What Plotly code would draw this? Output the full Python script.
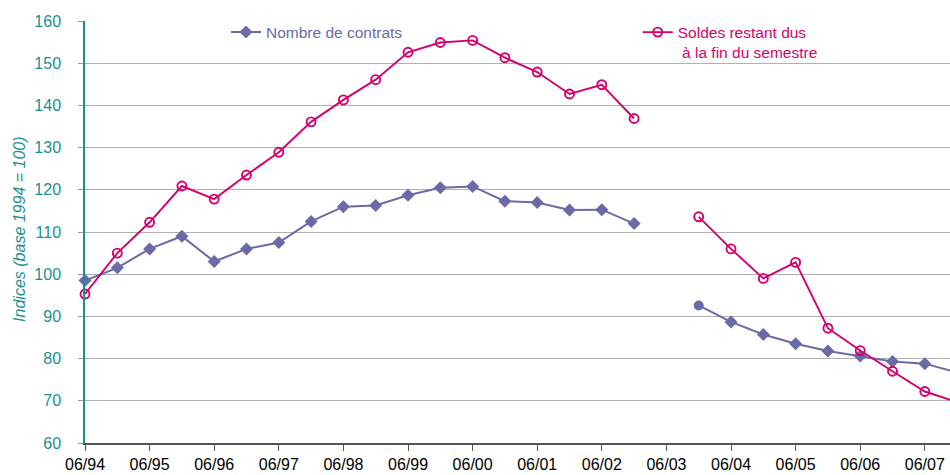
import plotly.graph_objects as go

# Half-yearly periods (06/94 ... 12/07)
periods = ["06/94", "12/94", "06/95", "12/95", "06/96", "12/96", "06/97", "12/97",
           "06/98", "12/98", "06/99", "12/99", "06/00", "12/00", "06/01", "12/01",
           "06/02", "12/02", "06/03", "12/03", "06/04", "12/04", "06/05", "12/05",
           "06/06", "12/06", "06/07", "12/07"]

nombre_contrats = [98.5, 101.5, 106.0, 109.0, 103.0, 106.0, 107.5, 112.5,
                   116.0, 116.3, 118.7, 120.5, 120.8, 117.3, 117.0, 115.2,
                   115.3, 112.0, None, 92.6, 88.7, 85.7, 83.5, 81.8,
                   80.6, 79.3, 78.8, 76.7]

soldes_restant = [95.3, 105.0, 112.3, 120.9, 117.8, 123.5, 128.9, 136.1,
                  141.3, 146.1, 152.6, 154.9, 155.4, 151.3, 147.9, 142.7,
                  144.9, 136.9, None, 113.6, 106.0, 99.0, 102.8, 87.2,
                  81.9, 77.0, 72.2, 69.7]

tick_labels = ["06/94", "06/95", "06/96", "06/97", "06/98", "06/99", "06/00",
               "06/01", "06/02", "06/03", "06/04", "06/05", "06/06", "06/07"]

# numeric position in years from 06/94
x = [i * 0.5 for i in range(len(periods))]
tick_vals = [x[periods.index(t)] for t in tick_labels]

PURPLE = "#6a6aa6"
RED = "#d4006c"
TEAL = "#1b9090"
FONT = "Liberation Sans, Arial, sans-serif"

symbols_nombre = ["diamond"] * len(periods)
symbols_nombre[periods.index("12/03")] = "circle"

fig = go.Figure()
fig.add_trace(go.Scatter(
    x=x, y=nombre_contrats, name="Nombre de contrats",
    mode="lines+markers", connectgaps=False, cliponaxis=False,
    line=dict(color=PURPLE, width=2),
    marker=dict(symbol=symbols_nombre, size=10, color=PURPLE),
    legend="legend", showlegend=True,
))
fig.add_trace(go.Scatter(
    x=x, y=soldes_restant, name="Soldes restant dus<br>\u00a0à la fin du semestre",
    mode="lines+markers", connectgaps=False, cliponaxis=False,
    line=dict(color=RED, width=1.9),
    marker=dict(symbol="circle-open", size=9, color=RED, line=dict(width=1.9, color=RED)),
    legend="legend2", showlegend=True,
))

fig.update_layout(
    width=950, height=475,
    margin=dict(l=85, r=0, t=21, b=32, autoexpand=False),
    showlegend=True,
    paper_bgcolor="white", plot_bgcolor="white",
    font=dict(family=FONT, size=16, color="black"),
    legend=dict(x=0.163, y=1.013, xanchor="left", yanchor="top",
                bgcolor="rgba(0,0,0,0)", font=dict(size=15.5, color=PURPLE),
                valign="top"),
    legend2=dict(x=0.639, y=1.013, xanchor="left", yanchor="top",
                 bgcolor="rgba(0,0,0,0)", font=dict(size=15.5, color=RED),
                 valign="top"),
    xaxis=dict(range=[0, 13.39], tickvals=tick_vals, ticktext=tick_labels,
               showgrid=False, zeroline=False, showline=True, linecolor="#555555",
               linewidth=1.5, ticks="outside", ticklen=6, tickcolor="#555555",
               tickfont=dict(size=16, color="black"), automargin=False),
    yaxis=dict(range=[60, 160], dtick=10, showgrid=True, gridcolor="#b0b0b0",
               gridwidth=1.2, zeroline=False, showline=True, linecolor=TEAL,
               linewidth=1.5, ticks="outside", ticklen=5, tickcolor="#999999",
               tickfont=dict(size=16, color=TEAL), ticklabelstandoff=14,
               automargin=False),
    annotations=[dict(
        text="<i>Indices (base 1994 = 100)</i>", textangle=-90,
        xref="paper", yref="paper", x=(20 - 85) / 865, y=0.505,
        xanchor="center", yanchor="middle", showarrow=False,
        font=dict(size=16, color=TEAL, family=FONT),
    )],
)

fig.write_html("out.html", config={"displayModeBar": False},
               post_script="document.body.style.margin='0';document.body.style.overflow='hidden';")
